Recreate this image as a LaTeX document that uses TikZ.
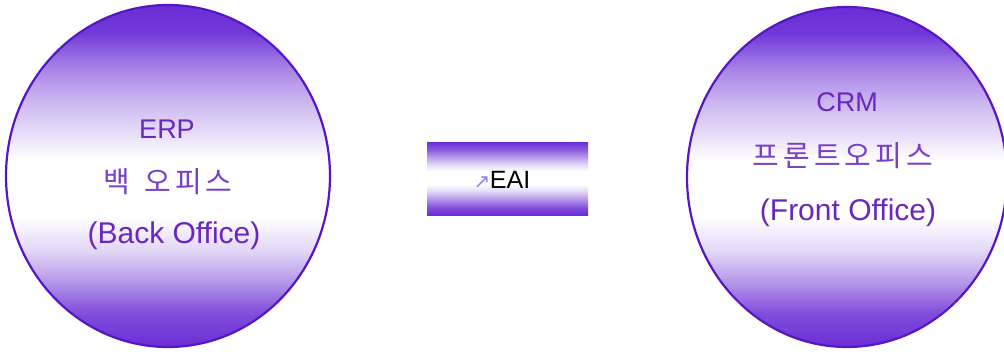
\documentclass[tikz,border=0pt]{standalone}
\usepackage{fontspec}
\setmainfont{Liberation Sans}
\newfontfamily\kofont{Noto Sans CJK KR}
\newfontfamily\symfont{DejaVu Sans}
\usetikzlibrary{shapes.geometric}
\definecolor{pp}{RGB}{106,46,214}
\definecolor{ppline}{RGB}{86,22,196}
\definecolor{pptext}{RGB}{104,40,190}
\definecolor{kotext}{RGB}{120,64,200}
\definecolor{arrowc}{RGB}{150,130,232}
\pgfdeclareverticalshading{circshade}{100bp}{%
  color(0bp)=(pp); color(25bp)=(pp); color(30bp)=(pp!85);
  color(34.5bp)=(pp!50); color(39bp)=(pp!20); color(44bp)=(white);
  color(52.5bp)=(white); color(56bp)=(pp!15); color(61bp)=(pp!35);
  color(66bp)=(pp!60); color(71bp)=(pp!95); color(75bp)=(pp); color(100bp)=(pp)}
\pgfdeclareverticalshading{rectshade}{100bp}{%
  color(0bp)=(pp); color(25bp)=(pp); color(30bp)=(pp!85);
  color(35bp)=(pp!55); color(41bp)=(pp!20); color(46bp)=(white);
  color(55bp)=(white); color(60bp)=(pp!20); color(65bp)=(pp!50);
  color(70bp)=(pp!80); color(75bp)=(pp); color(100bp)=(pp)}
\tikzset{
  sys/.style={ellipse, draw=ppline, line width=2.2pt, shading=circshade, inner sep=0pt},
  eaibox/.style={rectangle, shading=rectshade, inner sep=0pt, minimum width=161pt, minimum height=73pt},
  ttl/.style={text=pptext, font=\fontsize{27}{27}\selectfont, anchor=base, inner sep=0pt},
  lat/.style={text=pptext, font=\fontsize{30}{30}\selectfont, anchor=base, inner sep=0pt},
  kor/.style={text=kotext, font=\kofont\fontsize{29}{29}\selectfont, anchor=base, inner sep=0pt},
}
\newcommand{\ks}{\kern4pt}
\begin{document}
\begin{tikzpicture}[x=1pt,y=-1pt]
\useasboundingbox (0,0) rectangle (1004,351);
\node[sys, minimum width=324pt, minimum height=342pt] (erp) at (168,176) {};
\node[sys, minimum width=320pt, minimum height=340pt] (crm) at (847,177) {};
\node[eaibox] (eai) at (507.5,178.5) {};
\node[inner sep=0pt, font=\fontsize{25}{25}\selectfont, anchor=base] (eait) at (502,188) {{\symfont\fontsize{20}{20}\selectfont\color{arrowc}↗}\kern-0.5pt EAI};
\node[ttl] (erp1) at (167,138) {ERP};
\node[kor] (erp2) at (168,192) {백\ks{} \ks 오\ks 피\ks 스};
\node[lat] (erp3) at (174,243) {(Back Office)};
\node[ttl] (crm1) at (847,111) {CRM};
\node[kor] (crm2) at (843,166) {프\ks 론\ks 트\ks 오\ks 피\ks 스};
\node[lat] (crm3) at (848,220) {(Front Office)};
\end{tikzpicture}
\end{document}
